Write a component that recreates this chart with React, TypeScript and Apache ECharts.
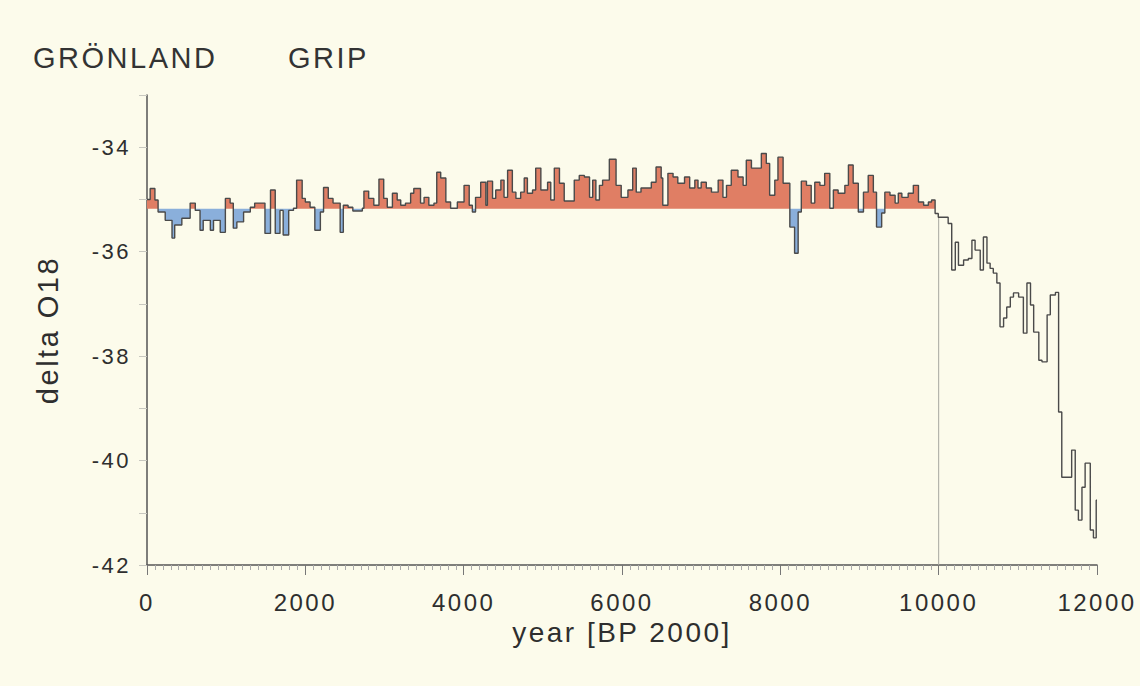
import React, { useEffect, useRef } from "react";
import * as echarts from "echarts";

const TITLE_LEFT = "GRÖNLAND";
const TITLE_RIGHT = "GRIP";
const X_NAME = "year [BP 2000]";
const Y_NAME = "delta O18";
const BASELINE = -35.18;
const FILL_END_YEAR = 9955;
const END_YEAR = 12000;
const X_MIN = 0;
const X_MAX = 12000;
const Y_MIN = -42;
const Y_MAX = -33;

// start year of each step
const stepYears = [
  0, 40, 100, 140, 230, 316, 350, 440, 545, 610, 670, 710, 800, 840, 925, 990,
  1050, 1090, 1135, 1220, 1305, 1360, 1490, 1560, 1620, 1680, 1720, 1790, 1850, 1890, 1960,
  2000, 2060, 2120, 2190, 2230, 2290, 2350, 2440, 2480, 2540, 2600, 2720, 2740, 2800, 2865, 2930, 2990,
  3035, 3100, 3160, 3205, 3265, 3330, 3370, 3455, 3500, 3560, 3625, 3660, 3710, 3775, 3835, 3920,
  4005, 4070, 4110, 4150, 4215, 4280, 4300, 4365, 4405, 4470, 4510, 4555, 4615, 4660, 4720, 4765, 4805, 4870, 4910, 4975,
  5060, 5100, 5145, 5210, 5270, 5397, 5460, 5525, 5590, 5630, 5670, 5715, 5755, 5840, 5925, 5990,
  6075, 6135, 6180, 6240, 6370, 6430, 6495, 6515, 6580, 6645, 6705, 6790, 6855, 6920, 6960,
  7000, 7065, 7130, 7215, 7275, 7320, 7380, 7465, 7530, 7570, 7635, 7760, 7823, 7865, 7930, 7970,
  8035, 8120, 8180, 8225, 8265, 8330, 8390, 8435, 8500, 8560, 8625, 8670, 8730, 8815, 8860, 8920, 8985,
  9050, 9110, 9175, 9215, 9280, 9320, 9385, 9450, 9490, 9535, 9615, 9680, 9745, 9810, 9870, 9910, 9955, 9995,
  10120, 10165, 10210, 10250, 10315, 10375, 10420, 10460, 10525, 10565, 10610, 10650, 10690, 10735, 10775, 10820, 10860, 10905, 10945,
  11010, 11070, 11115, 11160, 11200, 11265, 11305, 11370, 11410, 11475, 11515, 11555, 11680, 11725, 11765, 11810, 11850, 11915, 11955, 11990,
];

// delta O18 value of each step
const delta18O = [
  -35.0, -34.79, -35.01, -35.24, -35.4, -35.74, -35.49, -35.36, -35.07, -35.21, -35.59, -35.4, -35.59, -35.4, -35.63, -34.98,
  -35.07, -35.55, -35.43, -35.24, -35.15, -35.07, -35.65, -34.82, -35.65, -35.21, -35.68, -35.21, -35.17, -34.63, -34.98,
  -35.05, -35.15, -35.59, -35.24, -34.77, -34.98, -35.07, -35.63, -35.11, -35.15, -35.22, -35.17, -34.84, -34.98, -35.11, -34.61, -34.98,
  -35.15, -34.88, -35.01, -35.11, -35.07, -34.88, -34.79, -35.07, -34.96, -35.11, -35.07, -34.48, -34.59, -35.05, -35.17, -35.05,
  -34.73, -35.11, -35.24, -34.96, -34.67, -35.11, -34.65, -34.98, -34.82, -34.63, -34.96, -34.44, -34.86, -34.98, -34.86, -34.59, -34.88, -34.82, -34.4, -34.82,
  -34.67, -35.01, -34.4, -34.69, -35.03, -34.63, -34.54, -34.57, -34.96, -34.63, -35.01, -34.73, -34.63, -34.23, -34.73, -34.96,
  -34.82, -34.4, -34.86, -34.78, -34.67, -34.38, -34.59, -35.11, -34.5, -34.57, -34.69, -34.57, -34.78, -34.63, -34.78,
  -34.67, -34.78, -34.86, -34.63, -34.96, -34.73, -34.44, -34.57, -34.73, -34.25, -34.4, -34.12, -34.31, -34.92, -34.63, -34.19,
  -34.69, -35.53, -36.03, -35.24, -34.65, -34.73, -35.07, -34.67, -34.73, -34.5, -35.17, -34.82, -34.88, -34.73, -34.34, -34.69, -35.24,
  -34.86, -34.54, -34.86, -35.53, -35.26, -34.86, -34.92, -35.07, -34.88, -34.96, -34.88, -34.73, -35.05, -35.11, -35.05, -35.01, -35.27, -35.34,
  -35.46, -36.35, -35.82, -36.26, -36.16, -36.13, -35.78, -35.97, -36.35, -35.72, -36.22, -36.32, -36.41, -36.6, -37.44, -37.27, -37.06, -36.87, -36.79,
  -36.87, -37.56, -36.6, -37.02, -37.54, -38.08, -38.11, -37.21, -36.83, -36.78, -39.07, -40.32, -39.8, -40.95, -41.14, -40.51, -40.05, -41.33, -41.48, -40.76,
];

const LABEL_FONT = "'Liberation Sans', Arial, Helvetica, sans-serif";
const TEXT_COLOR = "#2e2e2e";

export default function App() {
  const ref = useRef<HTMLDivElement>(null);

  useEffect(() => {
    if (!ref.current) return;
    const chart = echarts.init(ref.current, null, { renderer: "svg" });

    const lineData: [number, number][] = stepYears.map((y, i) => [y, delta18O[i]]);
    lineData.push([END_YEAR, delta18O[delta18O.length - 1]]);

    const warm: [number, number][] = [];
    const cold: [number, number][] = [];
    let lastIdx = 0;
    stepYears.forEach((y, i) => {
      if (y < FILL_END_YEAR) {
        warm.push([y, Math.max(delta18O[i], BASELINE)]);
        cold.push([y, Math.min(delta18O[i], BASELINE)]);
        lastIdx = i;
      }
    });
    warm.push([FILL_END_YEAR, Math.max(delta18O[lastIdx], BASELINE)]);
    cold.push([FILL_END_YEAR, Math.min(delta18O[lastIdx], BASELINE)]);

    chart.setOption({
      animation: false,
      backgroundColor: "#fcfbeb",
      textStyle: { fontFamily: LABEL_FONT },
      title: [
        {
          text: TITLE_LEFT,
          left: 33,
          top: 43,
          padding: 0,
          textStyle: { fontSize: 29, fontWeight: "normal", color: "#333", fontFamily: LABEL_FONT },
        },
        {
          text: TITLE_RIGHT,
          left: 288,
          top: 43,
          padding: 0,
          textStyle: { fontSize: 29, fontWeight: "normal", color: "#333", fontFamily: LABEL_FONT },
        },
      ],
      grid: { left: 147, right: 43, top: 95, bottom: 121, containLabel: false },
      xAxis: {
        type: "value",
        min: X_MIN,
        max: X_MAX,
        interval: 2000,
        name: X_NAME,
        nameLocation: "middle",
        nameGap: 48,
        nameTextStyle: { fontSize: 28, color: TEXT_COLOR, fontFamily: LABEL_FONT },
        splitLine: { show: false },
        axisLine: { show: true, onZero: false, lineStyle: { color: "#555", width: 1.5 } },
        axisTick: { show: true, length: 10, lineStyle: { color: "#777", width: 1 } },
        minorTick: { show: true, splitNumber: 20, length: 5, lineStyle: { color: "#aaa", width: 1 } },
        axisLabel: {
          fontSize: 24,
          color: TEXT_COLOR,
          margin: 25,
          fontFamily: LABEL_FONT,
          formatter: (v: number) => String(v),
        },
      },
      yAxis: {
        type: "value",
        min: Y_MIN,
        max: Y_MAX,
        interval: 2,
        name: Y_NAME,
        nameLocation: "middle",
        nameGap: 85,
        nameTextStyle: { fontSize: 29, color: TEXT_COLOR, fontFamily: LABEL_FONT },
        splitLine: { show: false },
        axisLine: { show: true, onZero: false, lineStyle: { color: "#555", width: 1.5 } },
        axisTick: { show: true, length: 8, lineStyle: { color: "#c8c8c0", width: 1 } },
        minorTick: { show: true, splitNumber: 2, length: 8, lineStyle: { color: "#c8c8c0", width: 1 } },
        axisLabel: {
          fontSize: 22,
          color: TEXT_COLOR,
          margin: 16,
          showMaxLabel: false,
          fontFamily: LABEL_FONT,
          formatter: (v: number) => String(v),
        },
      },
      series: [
        {
          name: "warm",
          type: "line",
          step: "end",
          data: warm,
          symbol: "none",
          silent: true,
          lineStyle: { width: 0, opacity: 0 },
          areaStyle: { origin: BASELINE, color: "#e07e64", opacity: 1 },
          z: 1,
        },
        {
          name: "cold",
          type: "line",
          step: "end",
          data: cold,
          symbol: "none",
          silent: true,
          lineStyle: { width: 0, opacity: 0 },
          areaStyle: { origin: BASELINE, color: "#8aafdb", opacity: 1 },
          z: 1,
        },
        {
          name: "holocene start",
          type: "line",
          data: [
            [10000, Y_MIN],
            [10000, -35.34],
          ],
          symbol: "none",
          silent: true,
          lineStyle: { color: "#a8a8a0", width: 1 },
          z: 2,
        },
        {
          name: "delta O18",
          type: "line",
          step: "end",
          data: lineData,
          symbol: "none",
          lineStyle: { color: "#4a4a4a", width: 1.4 },
          z: 3,
        },
      ],
    });

    return () => chart.dispose();
  }, []);

  return (
    <div style={{ position: "absolute", left: 0, top: 0, width: 1140, height: 686 }}>
      <style>{`.grip-chart text { letter-spacing: 2.5px; }`}</style>
      <div ref={ref} className="grip-chart" style={{ width: 1140, height: 686 }} />
    </div>
  );
}
